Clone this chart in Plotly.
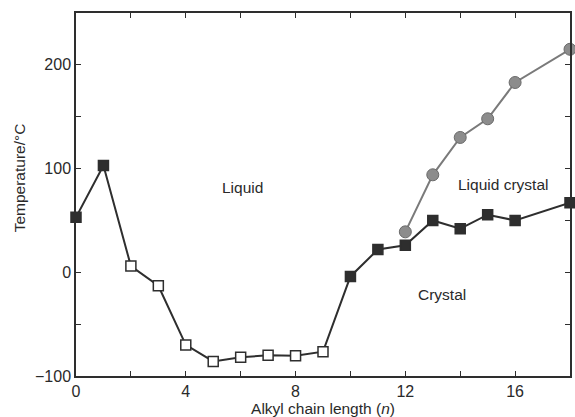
import plotly.graph_objects as go

# melting points (squares)
n_sq = [0, 1, 2, 3, 4, 5, 6, 7, 8, 9, 10, 11, 12, 13, 14, 15, 16, 18]
t_sq = [53, 103, 6, -13, -70, -86, -82, -80, -80.5, -76.5, -4, 22, 26, 50, 42, 55.5, 50, 67]
filled = [True, True, False, False, False, False, False, False, False, False,
          True, True, True, True, True, True, True, True]
# clearing points (circles)
n_lc = [12, 13, 14, 15, 16, 18]
t_lc = [39, 94, 130, 148, 183, 215]

x_ticks = [0, 2, 4, 6, 8, 10, 12, 14, 16, 18]
x_labels = ["0", "", "4", "", "8", "", "12", "", "16", ""]
y_ticks = [-100, -50, 0, 50, 100, 150, 200, 250]
y_labels = ["\u2212100", "", "0", "", "100", "", "200", ""]

dark = "#2e2e2e"
fam = "Liberation Sans, Arial, sans-serif"
fig = go.Figure()
fig.add_trace(go.Scatter(
    x=n_lc, y=t_lc, mode="lines+markers", cliponaxis=False,
    line=dict(color="#7a7a7a", width=2),
    marker=dict(symbol="circle", size=12, color="#8c8c8c", line=dict(color="#6a6a6a", width=1)),
    showlegend=False))
fig.add_trace(go.Scatter(
    x=n_sq, y=t_sq, mode="lines+markers", cliponaxis=False,
    line=dict(color=dark, width=2),
    marker=dict(symbol="square", size=10,
                color=[dark if f else "white" for f in filled],
                line=dict(color=dark, width=1.5)),
    showlegend=False))

font = dict(family=fam, size=15.5, color="#2a2a2a")
for txt, x, y in [("Liquid", 6.05, 82), ("Liquid crystal", 15.55, 85), ("Crystal", 13.35, -21.5)]:
    fig.add_annotation(x=x, y=y, text=txt, showarrow=False, font=font)

fig.add_annotation(xref="paper", yref="paper", x=-0.115, y=0.545, text="Temperature/°C",
                   textangle=-90, showarrow=False, font=font, xanchor="center", yanchor="middle")

axis_common = dict(showgrid=False, zeroline=False, showline=True, linecolor=dark, linewidth=1.5,
                   mirror="ticks", ticks="inside", ticklen=5, tickcolor=dark, tickwidth=1.2,
                   tickfont=dict(family=fam, size=16, color="#2a2a2a"))
fig.update_xaxes(range=[0, 18], tickvals=x_ticks, ticktext=x_labels,
                 title=dict(text="Alkyl chain length (<i>n</i>)", font=font, standoff=2),
                 **axis_common)
fig.update_yaxes(range=[-100, 250], tickvals=y_ticks, ticktext=y_labels, **axis_common)
fig.update_layout(width=575, height=417, margin=dict(l=76, r=3, t=13, b=41),
                  plot_bgcolor="white", paper_bgcolor="white")
fig.write_html("out.html")
